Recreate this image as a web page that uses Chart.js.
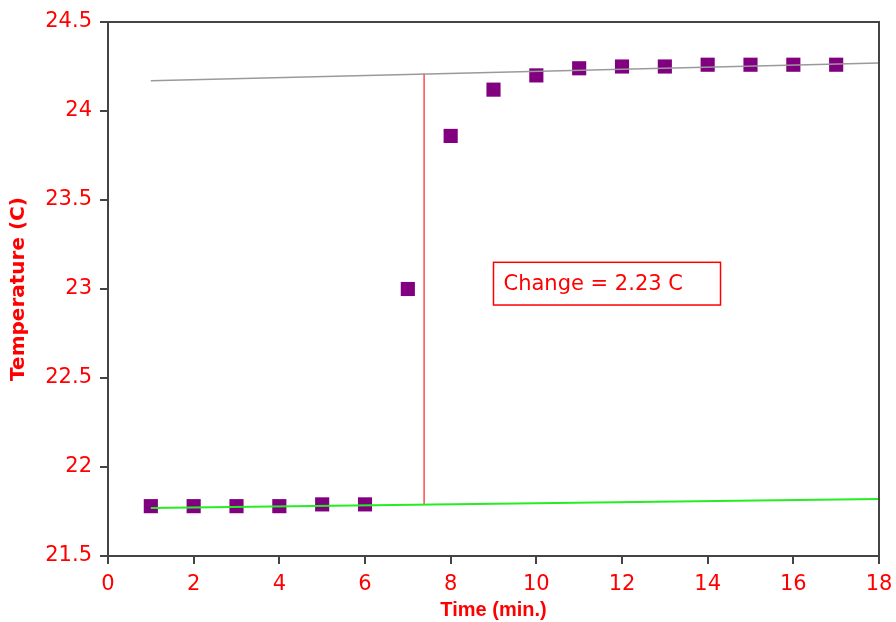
<!DOCTYPE html>
<html>
<head>
<meta charset="utf-8">
<script src="https://cdn.jsdelivr.net/npm/chart.js@4/dist/chart.umd.min.js"></script>
<style>
  html, body { margin: 0; padding: 0; background: #fff; }
  #wrap { width: 896px; height: 622px; position: relative; }
</style>
</head>
<body>
<div id="wrap"><canvas id="chart"></canvas></div>
<script>
// Measured temperatures, one reading per minute
const timeMin = [1, 2, 3, 4, 5, 6, 7, 8, 9, 10, 11, 12, 13, 14, 15, 16, 17];
const tempC = [21.78, 21.78, 21.78, 21.78, 21.79, 21.79, 23.0, 23.86, 24.12, 24.2, 24.24, 24.25, 24.25, 24.26, 24.26, 24.26, 24.26];

// Fitted baselines (start and end points)
const upperFitX = [1, 18];
const upperFitY = [24.17, 24.27];
const lowerFitX = [1, 18];
const lowerFitY = [21.77, 21.82];

// Vertical change marker
const changeX = [7.38, 7.38];
const changeY = [21.79, 24.21];

// Annotation box (data coordinates)
const boxText = 'Change = 2.23 C';
const boxX = [9.0, 14.3];
const boxY = [22.91, 23.15];

// Axis limits
const xRange = [0, 18, 2];
const yRange = [21.5, 24.5, 0.5];

const RED = '#ff0000';
const AXIS = '#444444';

const toPoints = (xs, ys) => xs.map((x, i) => ({ x: x, y: ys[i] }));

// Frame round the plot + text box
const framePlugin = {
    id: 'frame',
    afterDatasetsDraw(chart) {
        const { ctx, chartArea: a, scales } = chart;
        ctx.save();
        ctx.strokeStyle = AXIS;
        ctx.lineWidth = 2;
        ctx.beginPath();
        ctx.moveTo(a.left, a.top);
        ctx.lineTo(a.right, a.top);
        ctx.lineTo(a.right, a.bottom);
        ctx.stroke();

        const x0 = scales.x.getPixelForValue(boxX[0]);
        const x1 = scales.x.getPixelForValue(boxX[1]);
        const y0 = scales.y.getPixelForValue(boxY[1]);
        const y1 = scales.y.getPixelForValue(boxY[0]);
        ctx.strokeStyle = RED;
        ctx.lineWidth = 1.5;
        ctx.strokeRect(x0, y0, x1 - x0, y1 - y0);
        ctx.fillStyle = RED;
        ctx.font = '21px "DejaVu Sans"';
        ctx.textBaseline = 'middle';
        ctx.textAlign = 'left';
        ctx.fillText(boxText, x0 + 10, (y0 + y1) / 2 + 1);
        ctx.restore();
    }
};

const setup = () => {
    const ctx = document.getElementById('chart').getContext('2d');

    new Chart(ctx, {
        type: 'scatter',
        data: {
            datasets: [
                {
                    label: 'Upper fit',
                    data: toPoints(upperFitX, upperFitY),
                    showLine: true,
                    borderColor: '#9a9a9a',
                    borderWidth: 1.5,
                    pointRadius: 0,
                    order: 1
                },
                {
                    label: 'Lower fit',
                    data: toPoints(lowerFitX, lowerFitY),
                    showLine: true,
                    borderColor: '#22ee22',
                    borderWidth: 2,
                    pointRadius: 0,
                    order: 1
                },
                {
                    label: 'Change',
                    data: toPoints(changeX, changeY),
                    showLine: true,
                    borderColor: '#ff4a4a',
                    borderWidth: 1.5,
                    pointRadius: 0,
                    order: 1
                },
                {
                    label: 'Temperature',
                    data: toPoints(timeMin, tempC),
                    pointStyle: 'rect',
                    pointRadius: 10,
                    pointHoverRadius: 10,
                    backgroundColor: '#800080',
                    borderColor: '#800080',
                    borderWidth: 0,
                    order: 4
                }
            ]
        },
        options: {
            responsive: true,
            maintainAspectRatio: false,
            animation: false,
            events: [],
            layout: { padding: { top: 22, right: 17, left: 0, bottom: 0 } },
            plugins: {
                legend: { display: false },
                tooltip: { enabled: false }
            },
            scales: {
                x: {
                    type: 'linear',
                    min: xRange[0],
                    max: xRange[1],
                    afterFit: (scale) => {
                        scale.height = 66;
                        scale.paddingLeft = 0;
                        scale.paddingRight = 0;
                    },
                    border: { color: AXIS, width: 2 },
                    grid: { drawOnChartArea: false, tickLength: 8, color: AXIS, lineWidth: 2 },
                    ticks: {
                        stepSize: xRange[2],
                        color: RED,
                        padding: 8,
                        maxRotation: 0,
                        font: { family: '"DejaVu Sans"', size: 21 }
                    },
                    title: {
                        display: true,
                        text: 'Time (min.)',
                        color: RED,
                        padding: { top: 0, bottom: 0 },
                        font: { family: '"Liberation Sans"', size: 20, weight: 'bold' }
                    }
                },
                y: {
                    type: 'linear',
                    min: yRange[0],
                    max: yRange[1],
                    afterFit: (scale) => {
                        scale.width = 108;
                        scale.paddingTop = 0;
                        scale.paddingBottom = 0;
                    },
                    border: { color: AXIS, width: 2 },
                    grid: { drawOnChartArea: false, tickLength: 8, color: AXIS, lineWidth: 2 },
                    ticks: {
                        stepSize: yRange[2],
                        color: RED,
                        padding: 8,
                        callback: (v) => String(Number(v.toFixed(1))),
                        font: { family: '"DejaVu Sans"', size: 21 }
                    },
                    title: {
                        display: true,
                        text: 'Temperature (C)',
                        color: RED,
                        padding: { top: 7, bottom: 0 },
                        font: { family: '"DejaVu Sans"', size: 20, weight: 'bold' }
                    }
                }
            }
        },
        plugins: [framePlugin]
    });
};

document.addEventListener('DOMContentLoaded', setup);
</script>
</body>
</html>
